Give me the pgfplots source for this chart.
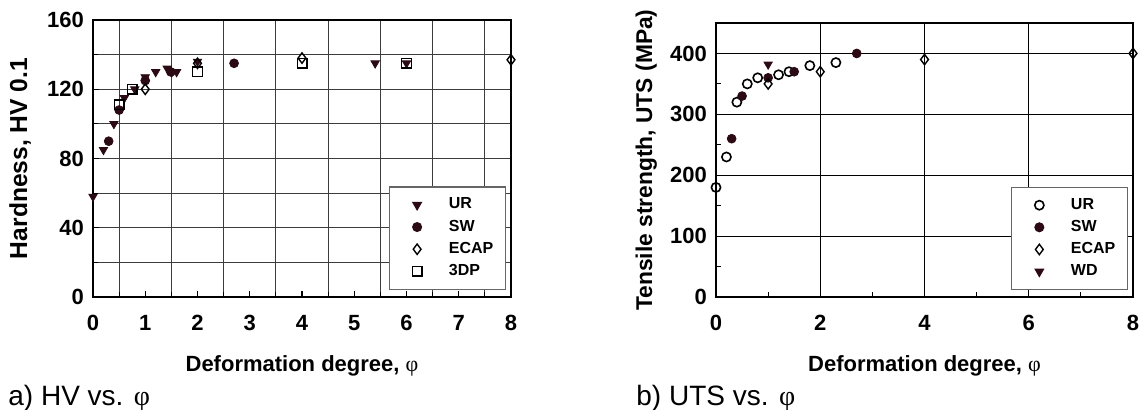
\documentclass[border=0pt]{standalone}
\usepackage{pgfplots}
\pgfplotsset{compat=1.18}
\usepackage{fontspec}
\setmainfont{Liberation Sans}
\newfontfamily\greekfont{Liberation Serif}
\definecolor{mk}{RGB}{43,10,20}
\definecolor{gridc}{RGB}{60,60,60}

\pgfplotsset{
  hv/.style={
    scale only axis,
    font=\bfseries\fontsize{11}{12}\selectfont,
    /pgf/number format/assume math mode=true,
    axis line style={line width=1pt},
    tick style={black, line width=0.6pt},
    major tick length=3.2pt, minor tick length=2.6pt,
    tick align=inside, tick pos=left,
    xticklabel style={anchor=base, yshift=-16.5pt},
    yticklabel style={xshift=-1pt},
    every axis y label/.style={at={(axis description cs:0,0.5)},rotate=90,anchor=base},
    every axis x label/.style={at={(axis description cs:0.5,0)},anchor=base},
    legend cell align=left,
    legend style={font=\bfseries\fontsize{8}{9}\selectfont, draw=gray!80!black, line width=0.6pt,
      anchor=south east, row sep=0pt, inner xsep=4pt, inner ysep=3.5pt},
    legend image code/.code={\path (-9.5pt,0pt) (2pt,0pt); \draw[##1] plot coordinates {(0pt,0pt)};},
    /tikz/every odd column/.append style={column sep=11.5pt},
  },
  ur/.style={only marks, mark=triangle*, mark size=2.4pt, mark options={rotate=180, fill=mk, draw=mk}},
  sw/.style={only marks, mark=*, mark size=2.2pt, mark options={fill=mk, draw=mk}},
  ecap/.style={only marks, mark=diamond, mark size=2.6pt, mark options={draw=black, fill=white, line width=0.7pt}},
  tdp/.style={only marks, mark=square, mark size=2.4pt, mark options={draw=black, line width=0.7pt}},
  urc/.style={only marks, mark=o, mark size=2.3pt, mark options={draw=black, fill=white, line width=0.8pt}},
}

\begin{document}
\begin{tikzpicture}[x=1pt,y=1pt]
\useasboundingbox (0,0) rectangle (572.5,204.5);

% a) hardness
\begin{axis}[hv,
  at={(46.5pt,56pt)}, anchor=south west,
  width=209pt, height=138.5pt,
  xmin=0, xmax=8, ymin=0, ymax=160,
  xtick={0,...,8},
  minor xtick={0.5,1.5,...,7.5},
  ytick={0,40,...,160},
  minor ytick={20,60,100,140},
  xminorgrids=true, ymajorgrids=true, yminorgrids=true,
  minor grid style={gridc, line width=0.5pt},
  major grid style={gridc, line width=0.5pt},
  ylabel={Hardness, HV 0.1},
  ylabel style={yshift=33pt, font=\bfseries\fontsize{12.3}{13}\selectfont},
  xlabel={Deformation degree, {\greekfont\mdseries φ}},
  xlabel style={yshift=-37pt},
  legend style={at={(0.988,0.025)}},
]
\addplot[ur] coordinates {(0,58) (0.2,85) (0.4,100) (0.6,115) (0.8,120) (1.0,127) (1.2,130) (1.42,132) (1.51,130) (1.6,130) (2,136) (5.4,135) (6,135)};
\addplot[sw] coordinates {(0.3,90) (0.5,108) (1.0,125) (1.49,130) (2.7,135)};
\addplot[ecap] coordinates {(1,120) (2,135) (4,138) (8,137)};
\addplot[tdp] coordinates {(0.5,111) (0.75,120) (2,130) (4,135) (6,135)};
\legend{UR, SW, ECAP, 3DP}
\end{axis}

% b) UTS
\begin{axis}[hv,
  at={(358pt,56pt)}, anchor=south west,
  width=208.5pt, height=137pt,
  xmin=0, xmax=8, ymin=0, ymax=450,
  xtick={0,2,...,8},
  minor xtick={1,3,5,7},
  ytick={0,100,...,400},
  minor ytick={50,150,250,350},
  xmajorgrids=true, ymajorgrids=true,
  major grid style={black, line width=0.6pt},
  ylabel={Tensile strength, UTS (MPa)},
  ylabel style={yshift=32pt, font=\bfseries\fontsize{11.4}{12}\selectfont},
  xlabel={Deformation degree, {\greekfont\mdseries φ}},
  xlabel style={yshift=-37pt},
  legend style={at={(0.988,0.025)}},
]
\addplot[urc] coordinates {(0,180) (0.2,230) (0.4,320) (0.6,350) (0.8,360) (1.2,365) (1.4,370) (1.8,380) (2.3,385)};
\addplot[sw] coordinates {(0.3,260) (0.5,330) (1.0,360) (1.5,370) (2.7,400)};
\addplot[ecap] coordinates {(1,350) (2,370) (4,390) (8,400)};
\addplot[ur] coordinates {(1,382)};
\legend{UR, SW, ECAP, WD}
\end{axis}

\node[anchor=base west, font=\fontsize{14}{15}\selectfont, inner sep=0] at (4,1.8) {a) HV vs. {\greekfont φ}};
\node[anchor=base west, font=\fontsize{14}{15}\selectfont, inner sep=0] at (318,1.8) {b) UTS vs. {\greekfont φ}};
\end{tikzpicture}
\end{document}
